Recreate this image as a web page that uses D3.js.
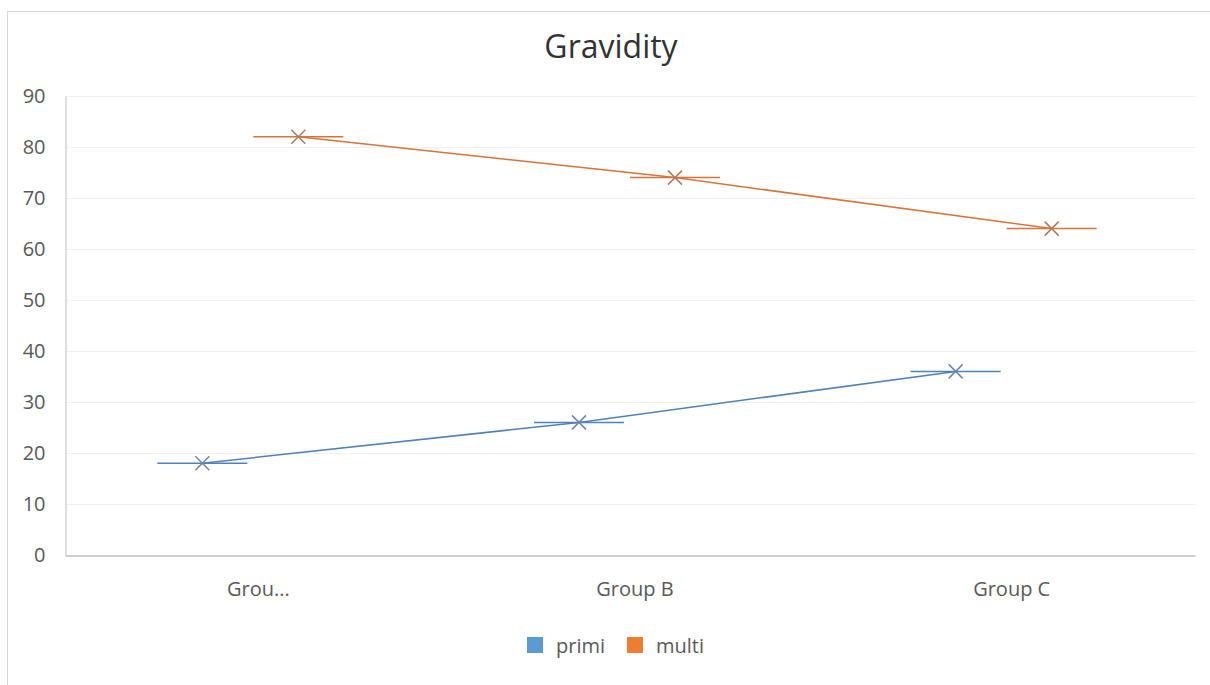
<!DOCTYPE html>
<html lang="en">
<head>
<meta charset="UTF-8">
<title>Gravidity</title>
<script src="https://cdn.jsdelivr.net/npm/d3@7"></script>
<style>
    body { margin: 0; background: #fff; }
    text { font-family: "Open Sans", "DejaVu Sans", sans-serif; }
</style>
</head>
<body>
<script>
    // data
    var categories = ["Grou...", "Group B", "Group C"];
    var seriesNames = ["primi", "multi"];
    var primi = [18, 26, 36];
    var multi = [82, 74, 64];
    var yTicks = [0, 10, 20, 30, 40, 50, 60, 70, 80, 90];
    var colors = ["#5B9BD5", "#ED7D31"];
    var lineColors = ["#4F81BD", "#D8733A"];
    var markColors = ["#6F87A8", "#B07A5C"];

    var width = 1210, height = 685;
    var margin = {left: 65, right: 15, top: 96, bottom: 130};

    var svg = d3.select("body").append("svg")
        .attr("width", width)
        .attr("height", height);

    // chart border
    svg.append("rect")
        .attr("x", 7.5).attr("y", 11.5)
        .attr("width", width).attr("height", height)
        .attr("fill", "#fff")
        .attr("stroke", "#d9d9d9");

    var x = d3.scaleBand()
        .domain(categories)
        .range([margin.left, width - margin.right]);

    var y = d3.scaleLinear()
        .domain([0, 90])
        .range([height - margin.bottom, margin.top]);

    // gridlines
    svg.append("g")
        .selectAll("line")
        .data(yTicks.filter(d => d > 0))
        .enter().append("line")
        .attr("x1", margin.left).attr("x2", width - margin.right)
        .attr("y1", d => Math.round(y(d)) + 0.5)
        .attr("y2", d => Math.round(y(d)) + 0.5)
        .attr("stroke", "#f0f0f0");

    // y axis
    var yAxis = svg.append("g")
        .attr("transform", "translate(" + (margin.left + 0.5) + ",0)")
        .call(d3.axisLeft(y).tickValues(yTicks).tickSize(0).tickPadding(20));
    yAxis.select(".domain").attr("stroke", "#bfbfbf");
    yAxis.selectAll("text").attr("fill", "#595959").attr("font-size", "20px");

    // x axis
    var xAxis = svg.append("g")
        .attr("transform", "translate(0," + (Math.round(y(0)) + 0.5) + ")")
        .call(d3.axisBottom(x).tickSize(0).tickPadding(26));
    xAxis.select(".domain").attr("stroke", "#bfbfbf").attr("stroke-width", 1.5);
    xAxis.selectAll("text").attr("fill", "#595959").attr("font-size", "20px")
        .attr("dx", 5);

    // series offsets inside each category
    var offsets = [-51, 45];
    var series = [primi, multi];

    series.forEach(function(vals, s) {
        var pts = vals.map((v, i) => [x(categories[i]) + x.bandwidth() / 2 + offsets[s], y(v)]);

        svg.append("path")
            .datum(pts)
            .attr("fill", "none")
            .attr("stroke", lineColors[s])
            .attr("stroke-width", 1.5)
            .attr("d", d3.line());

        var g = svg.append("g").selectAll("g")
            .data(pts).enter().append("g")
            .attr("transform", d => "translate(" + d[0] + "," + d[1] + ")");

        g.append("line")
            .attr("x1", -45).attr("x2", 45)
            .attr("stroke", lineColors[s])
            .attr("stroke-width", 1.5);

        g.append("path")
            .attr("d", "M-7,-7L7,7M-7,7L7,-7")
            .attr("stroke", markColors[s])
            .attr("stroke-width", 1.5);
    });

    // title
    svg.append("text")
        .attr("x", 611).attr("y", 58)
        .attr("text-anchor", "middle")
        .attr("font-size", "32px")
        .attr("fill", "#333")
        .text("Gravidity");

    // legend
    var legend = svg.append("g").selectAll("g")
        .data(seriesNames).enter().append("g")
        .attr("transform", (d, i) => "translate(" + [527, 627][i] + ",637)");

    legend.append("rect")
        .attr("width", 16).attr("height", 16)
        .attr("fill", (d, i) => colors[i]);

    legend.append("text")
        .attr("x", 29).attr("y", 16)
        .attr("font-size", "20px")
        .attr("fill", "#595959")
        .text(d => d);
</script>
</body>
</html>
